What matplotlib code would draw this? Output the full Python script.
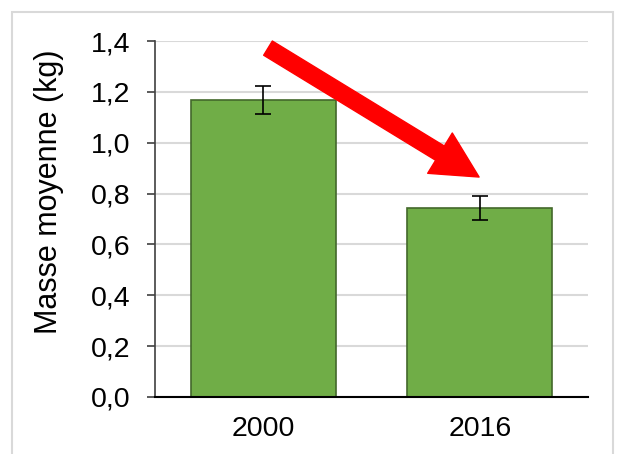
import matplotlib.pyplot as plt
from matplotlib.patches import Rectangle

plt.rcParams['font.family'] = ['Liberation Sans', 'DejaVu Sans']

years = ['2000', '2016']
masse = [1.168, 0.744]
erreur = [0.057, 0.048]
yticks = [0.0, 0.2, 0.4, 0.6, 0.8, 1.0, 1.2, 1.4]

fig = plt.figure(figsize=(6.2, 4.54), dpi=100)
ax = fig.add_axes([155 / 620, 1 - 397 / 454, 433 / 620, 356 / 454])

# light frame around the chart
fig.patches.append(Rectangle((12 / 620, -0.01), 601 / 620, 1 - 12 / 454 + 0.01,
                             transform=fig.transFigure, fill=False,
                             edgecolor='#D9D9D9', linewidth=1.5))

x = range(len(years))
ax.bar(x, masse, width=0.67, color='#70AD47', edgecolor='#43682B',
       linewidth=1.2, zorder=2)
ax.errorbar(x, masse, yerr=erreur, fmt='none', ecolor='black',
            elinewidth=1.2, capsize=6, capthick=1.2, zorder=3)

ax.set_xlim(-0.5, 1.5)
ax.set_ylim(0, 1.4)
ax.set_yticks(yticks)
ax.set_yticklabels([f'{v:.1f}'.replace('.', ',') for v in yticks])
ax.set_xticks(list(x))
ax.set_xticklabels(years)
ax.tick_params(axis='x', length=0, labelsize=20.5, pad=14)
ax.tick_params(axis='y', length=6, width=1.2, labelsize=20.5, pad=12,
               color='#404040')
ax.set_ylabel('Masse moyenne (kg)', fontsize=22)
ax.yaxis.set_label_coords(-0.21, 0.576)

ax.yaxis.grid(True, color='#D9D9D9', linewidth=1.5, zorder=0)
ax.set_axisbelow(True)
for s in ['top', 'right']:
    ax.spines[s].set_visible(False)
ax.spines['left'].set_color('#404040')
ax.spines['left'].set_linewidth(1.2)
ax.spines['bottom'].set_linewidth(1.5)

ax.annotate('', xy=(0.997, 0.865), xytext=(0.022, 1.372),
            arrowprops=dict(arrowstyle='simple,head_width=3.4,head_length=3.3,tail_width=1.2',
                            color='red', shrinkA=0, shrinkB=0),
            zorder=4, annotation_clip=False)

fig.savefig('out.png', dpi=100)
